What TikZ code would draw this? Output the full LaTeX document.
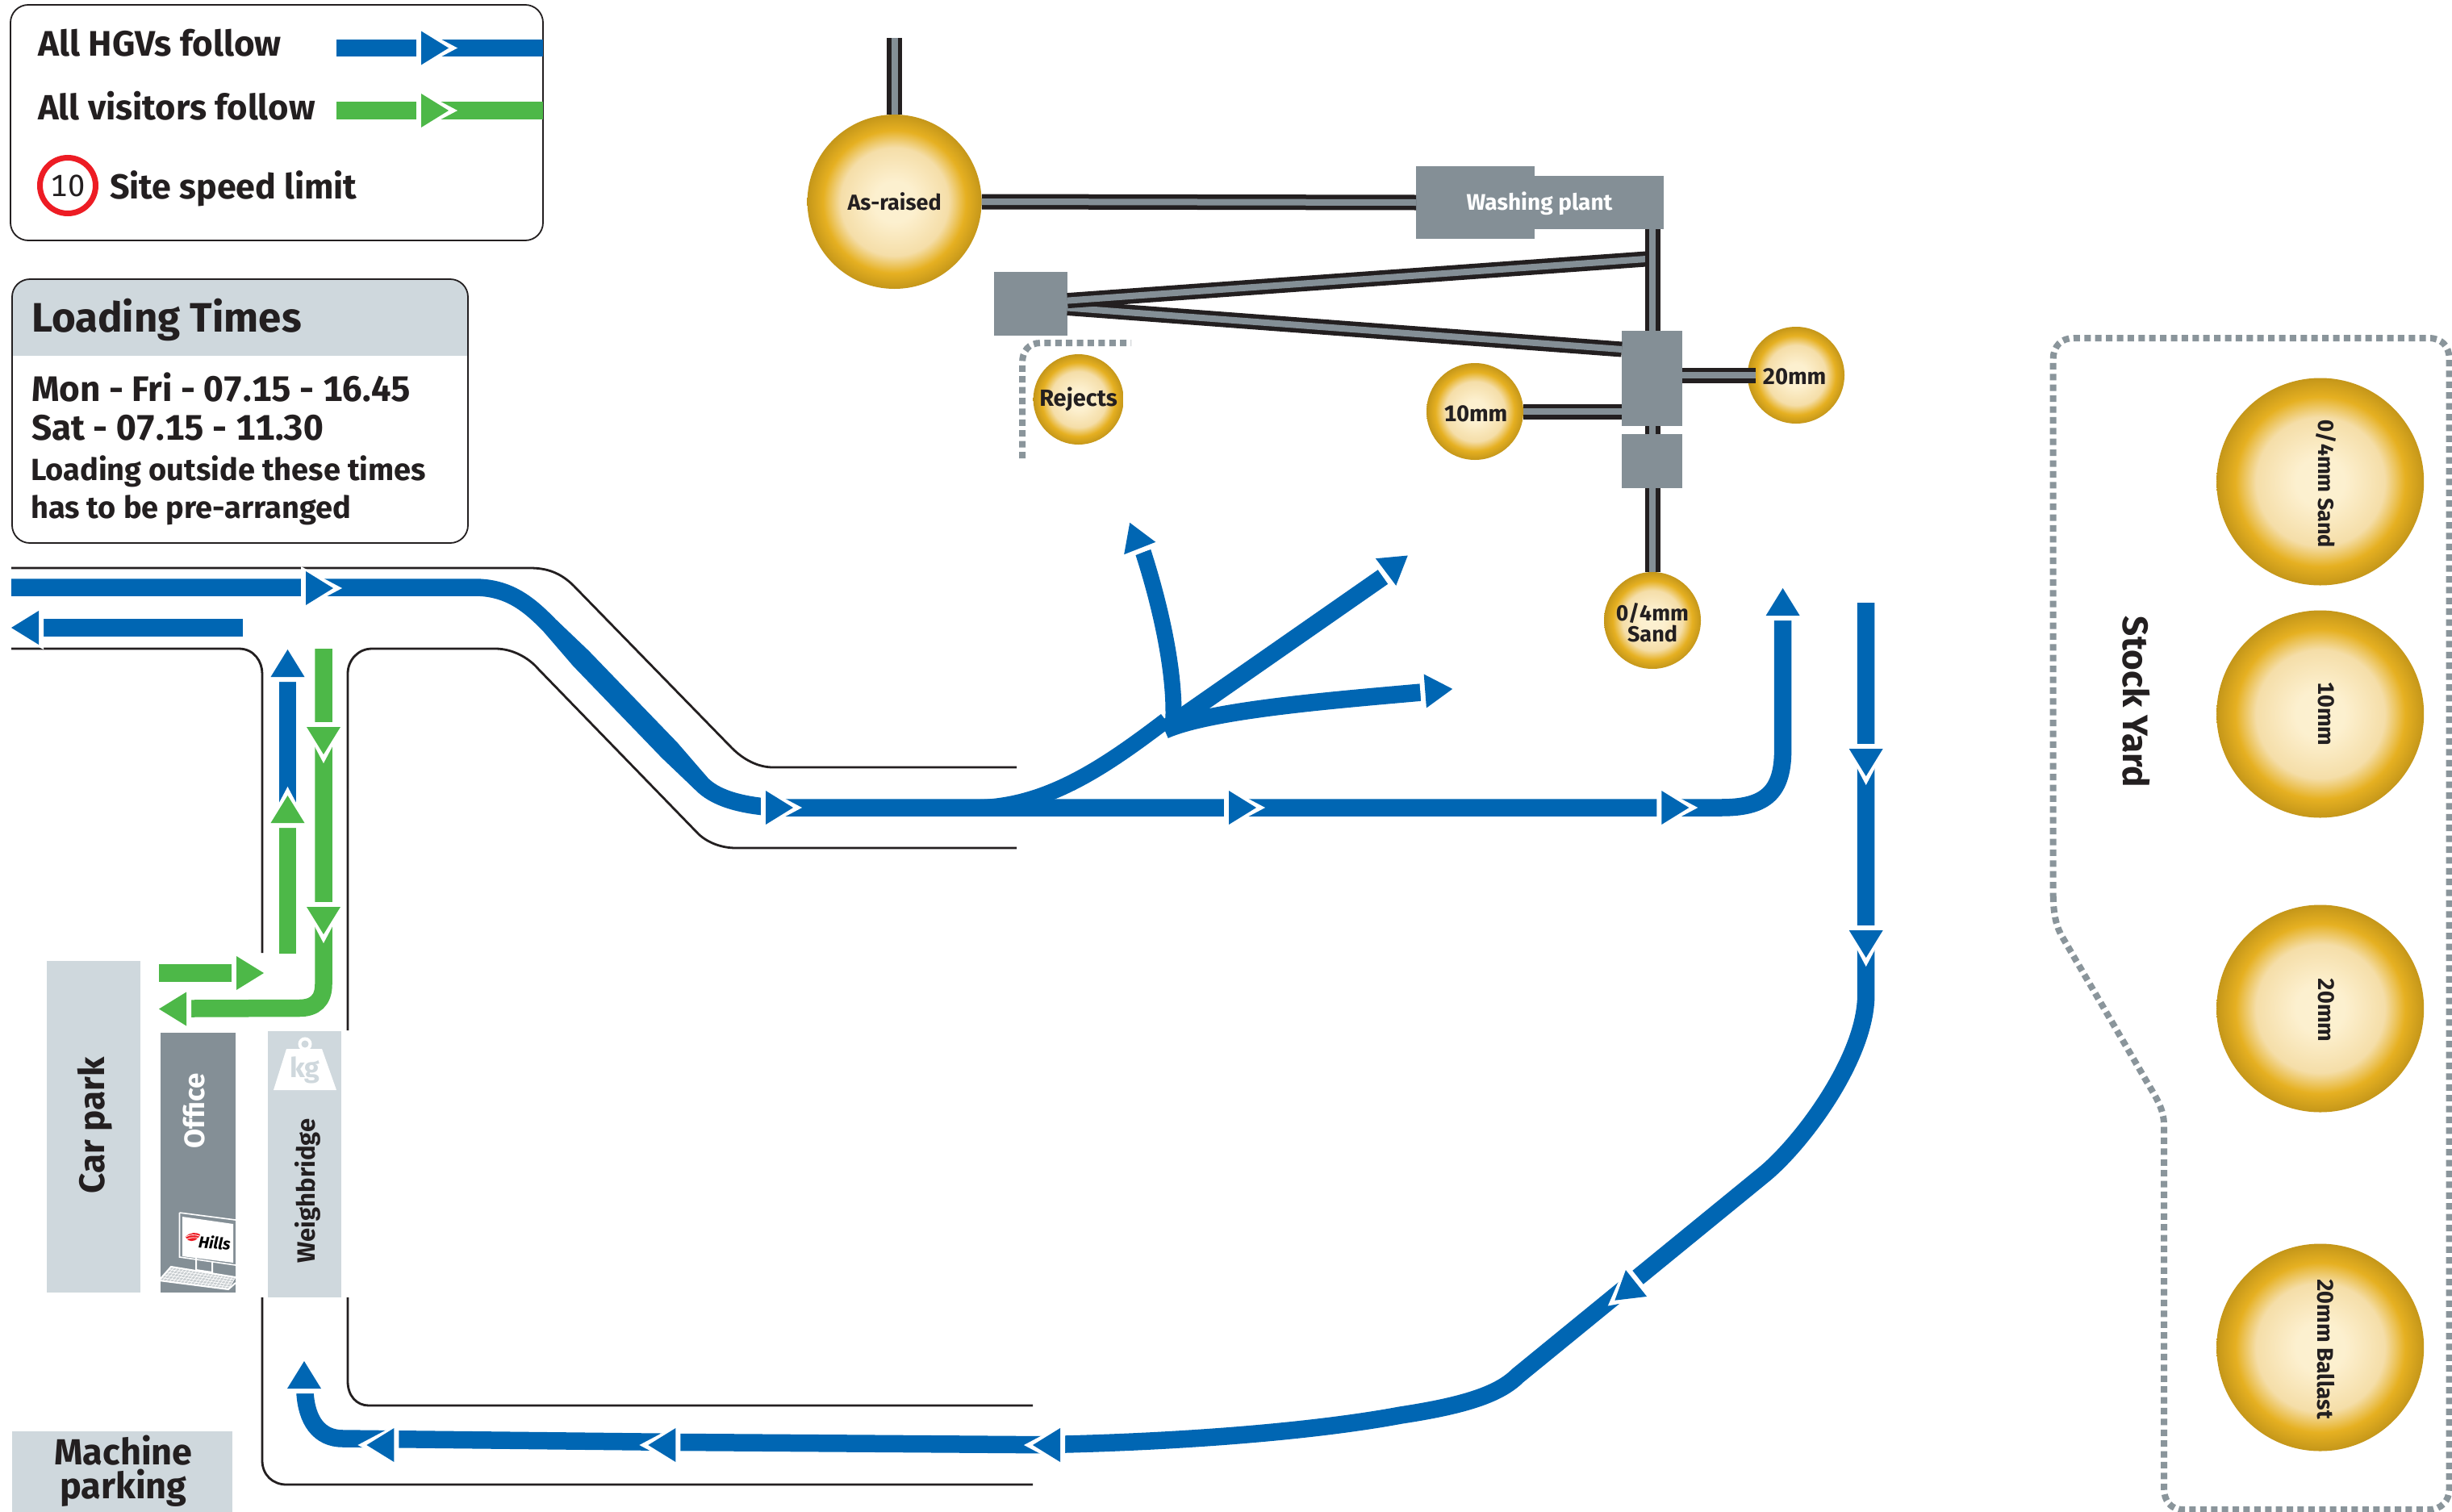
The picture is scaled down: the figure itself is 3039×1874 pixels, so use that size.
\documentclass[tikz,border=0pt]{standalone}
\usepackage{fontspec}
\setmainfont[Numbers=Monospaced]{Fira Sans}
\usetikzlibrary{calc}
\definecolor{hgv}{HTML}{0066B3}
\definecolor{visitor}{HTML}{4DB848}
\definecolor{ink}{HTML}{231F20}
\definecolor{pale}{HTML}{CFD8DD}
\definecolor{plantgrey}{HTML}{848F96}
\definecolor{dotgrey}{HTML}{8A959B}
\definecolor{hillsred}{HTML}{ED1C24}
\pgfdeclareradialshading{pileshade}{\pgfpoint{0bp}{0bp}}{rgb(0bp)=(0.99,0.945,0.82); rgb(6bp)=(0.99,0.94,0.81); rgb(15.5bp)=(0.96,0.87,0.66); rgb(20.5bp)=(0.90,0.69,0.13); rgb(25bp)=(0.77,0.59,0.10); rgb(50bp)=(0.77,0.59,0.10)}
\newcommand\tsz[1]{\fontsize{#1}{#1}\selectfont\bfseries}
\tikzset{
  flowhead/.pic={
    \fill[white] (-6,-27) -- (-6,27) -- (45,0) -- cycle;
    \fill[#1] (0,-21) -- (0,21) -- (34,0) -- cycle;
  },
  road/.style={draw=ink,line width=2.8},
  flow/.style={draw=#1,line width=21.5},
  conveyor/.style={draw=ink,line width=5.5,double=plantgrey,double distance=8},
  boxy/.style={fill=plantgrey,inner sep=0},
  stockpile/.style={circle,shade,shading=pileshade,inner sep=0,minimum size=#1,text=ink,align=center},
  lab/.style={inner sep=0,text=ink,align=center},
  lableft/.style={inner sep=0,text=ink,anchor=base west},
  dotted line/.style={draw=dotgrey,line width=8,dash pattern=on 8pt off 5.4pt},
  panel/.style={draw=ink,line width=1.8,rounded corners=22},
}
\begin{document}
\begin{tikzpicture}[x=1pt,y=-1pt]
\useasboundingbox (0,0) rectangle (3039,1874);
\fill[white] (0,0) rectangle (3039,1874);

% legend
\draw[panel] (13,6) rectangle (673,298);
\node[lableft] (lhgv) at (47,69) {\tsz{44}All HGVs follow};
\node[lableft] (lvis) at (47,148) {\tsz{43.5}All visitors follow};
\node[lableft] (lspeed) at (136,246) {\tsz{43}Site speed limit};
\node[circle,draw=hillsred,line width=7,minimum size=69,inner sep=0,text=ink] (speed) at (84,230) {\fontsize{38}{38}\selectfont 10};
\draw[flow=hgv] (417,59.5) -- (673,59.5);
\draw[flow=visitor] (417,137) -- (673,137);
\pic at (522,59.5) {flowhead=hgv};
\pic at (522,137) {flowhead=visitor};

% loading times
\begin{scope}
\clip[rounded corners=22] (15,346) rectangle (580,673);
\fill[pale] (15,346) rectangle (580,441);
\end{scope}
\draw[panel] (15,346) rectangle (580,673);
\node[lableft] (ltitle) at (39,411) {\tsz{51}Loading Times};
\node[lableft] (lmon) at (39,497) {\tsz{44}Mon - Fri - 07.15 - 16.45};
\node[lableft] (lsat) at (39,545) {\tsz{44}Sat - 07.15 - 11.30};
\node[lableft] (lout) at (38,595) {\tsz{38}Loading outside these times};
\node[lableft] (lpre) at (38,642) {\tsz{38}has to be pre-arranged};

% roads
\draw[road] (14,704) -- (657,704) .. controls (678,704) and (695,710) .. (711,726) -- (907,927) .. controls (922,942) and (940,951) .. (958,951) -- (1260,951);
\draw[road] (14,804) -- (296,804) .. controls (315,804) and (325,820) .. (325,835) -- (325,1181);
\draw[road] (431,1277) -- (431,835) .. controls (431,818) and (444,804) .. (461,804) -- (614,804) .. controls (635,804) and (655,815) .. (667,829) -- (866,1034) .. controls (878,1045) and (895,1051) .. (912,1051) -- (1260,1051);
\draw[road] (431,1608) -- (431,1712) .. controls (431,1730) and (442,1742) .. (457,1742) -- (1280,1742);
\draw[road] (325,1608) -- (325,1810) .. controls (325,1828) and (338,1840) .. (355,1840) -- (1280,1840);

% HGV route
\draw[flow=hgv] (14,728) -- (588,728) .. controls (630,728) and (655,748) .. (682,776) -- (869,971) .. controls (885,988) and (915,998) .. (960,1001) -- (2133,1001) .. controls (2185,1001) and (2209.6,985) .. (2209.6,930) -- (2209.6,769);
\fill[hgv] (689.75,768.5) -- (729.7,806.6) -- (839.7,920.6) -- (876.75,963.5) -- (861.25,978.5) -- (820.3,939.4) -- (710.3,825.4) -- (674.25,783.5) -- cycle;
\draw[flow=hgv,line width=20] (1215,1001) .. controls (1300,998) and (1370,950) .. (1445,893);
\draw[flow=hgv] (1443.5,905) .. controls (1500,880) and (1650,868) .. (1762,858);
\draw[flow=hgv,line width=20] (1454.4,890) .. controls (1456,830) and (1438,750) .. (1416.7,684);
\draw[flow=hgv] (1448.5,900) -- (1714,715);
\draw[flow=hgv] (301,778) -- (52,778);
\draw[flow=hgv] (356.5,844) -- (356.5,995);
\draw[flow=hgv] (2312.7,747) -- (2312.7,1233) .. controls (2312.7,1310) and (2235,1415) .. (2187,1455) -- (1881,1705) .. controls (1858,1728) and (1815,1742) .. (1736,1754) .. controls (1640,1772) and (1480,1787) .. (1290,1790.7) -- (843,1787.5) -- (425,1783) .. controls (395,1783) and (380,1760) .. (378,1726);
\pic at (379,729) {flowhead=hgv};
\pic at (949,1001) {flowhead=hgv};
\pic at (1523,1001) {flowhead=hgv};
\pic at (2059.3,1001) {flowhead=hgv};
\pic[rotate=90] at (2209.6,763) {flowhead=hgv};
\pic[rotate=111.5] at (1412.7,679.5) {flowhead=hgv};
\pic[rotate=37] at (1717.6,709) {flowhead=hgv};
\pic[rotate=4.4] at (1766.3,856.5) {flowhead=hgv};
\pic[rotate=180] at (48,778) {flowhead=hgv};
\pic[rotate=90] at (356.5,839) {flowhead=hgv};
\pic[rotate=-90] at (2312.7,928) {flowhead=hgv};
\pic[rotate=-90] at (2312.7,1153) {flowhead=hgv};
\pic[rotate=218.5] at (2028,1590.5) {flowhead=hgv};
\pic[rotate=180] at (1314,1791) {flowhead=hgv};
\pic[rotate=180] at (837.4,1791) {flowhead=hgv};
\pic[rotate=180] at (488.4,1791) {flowhead=hgv};
\pic[rotate=90] at (377,1721) {flowhead=hgv};

% visitor route
\draw[flow=visitor] (197,1206) -- (288,1206);
\draw[flow=visitor] (356.5,1025) -- (356.5,1182);
\draw[flow=visitor] (401,804) -- (401,1220) .. controls (401,1240) and (390,1249.5) .. (371,1249.5) -- (237,1250);
\pic at (293,1206) {flowhead=visitor};
\pic[rotate=180] at (231,1250.5) {flowhead=visitor};
\pic[rotate=90] at (356.5,1020) {flowhead=visitor};
\pic[rotate=-90] at (401,901) {flowhead=visitor};
\pic[rotate=-90] at (401,1124) {flowhead=visitor};

% buildings
\node[fill=pale,inner sep=0,minimum width=116,minimum height=411] (carpark) at (116,1396.5) {};
\node[lab,rotate=90] (carparkt) at (118,1395) {\tsz{44}Car park};
\node[boxy,minimum width=93,minimum height=322] (office) at (245.5,1441) {};
\node[inner sep=0,text=white,rotate=90] (officet) at (241,1377) {\tsz{35}Office};
\node[fill=pale,inner sep=0,minimum width=91,minimum height=330] (weigh) at (377.5,1443) {};
\node[lab,rotate=90] (weight) at (381,1476) {\tsz{31}Weighbridge};
\draw[white,line width=4] (378,1294) circle (6.5);
\fill[white] (355,1300) -- (399,1300) -- (417,1351) -- (339,1351) -- cycle;
\node[inner sep=0,text=pale] (kg) at (378,1326) {\tsz{34}kg};
\node[fill=pale,inner sep=0,minimum width=273,minimum height=100,anchor=north west] (machine) at (15,1774) {};
\node[lab,font={\fontsize{45}{42}\selectfont\bfseries}] (machinet) at (153,1823) {Machine\\parking};

% computer
\coordinate (ka) at (212,1570); \coordinate (kb) at (292,1583);
\coordinate (kc) at (283,1598); \coordinate (kd) at (197,1587);
\fill[plantgrey!45!white] (ka) -- (kb) -- (kc) -- (kd) -- cycle;
\foreach \t in {0,0.05,...,1.01} {\draw[white,line width=.7] ($(ka)!\t!(kb)$) -- ($(kd)!\t!(kc)$);}
\foreach \t in {0,0.2,...,1.01} {\draw[white,line width=.7] ($(ka)!\t!(kd)$) -- ($(kb)!\t!(kc)$);}
\draw[white,line width=2] (kd) -- (kc) -- (292,1590);
\draw[white,line width=2] (197,1587) -- (212,1570) -- (292,1583);
\draw[white,line width=2] (243,1558) -- (243,1574) -- (263,1577) -- (263,1563);
\draw[white,line width=1.6] (222.5,1503) -- (292,1512);
\draw[white,line width=1.6] (222.5,1503) -- (222.5,1558) -- (292,1568);
\fill[white] (226,1508) -- (289,1517) -- (289,1565) -- (226,1557) -- cycle;
\fill[hillsred] (230,1533) .. controls (235,1527) and (244,1527) .. (248,1530) .. controls (246,1537) and (238,1540) .. (233,1537) -- cycle;
\draw[white,line width=.8] (231,1532.5) .. controls (236,1530) and (242,1530) .. (247,1532);
\draw[white,line width=.8] (232,1535.5) .. controls (237,1533.5) and (241,1533.5) .. (246,1534.5);
\node[inner sep=0,text=black,rotate=-5] (hills) at (266,1540) {\fontsize{20}{20}\selectfont\bfseries\itshape Hills};

% plant
\node[stockpile=216] (asraised) at (1108.6,250) {\tsz{27}As-raised};
\node[stockpile=112] (rejects) at (1336.6,495) {\tsz{29}Rejects};
\node[stockpile=120] (mmten) at (1828,510) {};
\node[stockpile=120] (mmtwenty) at (2226,465) {};
\node[stockpile=120] (sand) at (2048,769) {};
\node[boxy,minimum width=146.6,minimum height=90] (washl) at (1828.7,251) {};
\node[boxy,minimum width=160,minimum height=66] (washr) at (1982,251) {};
\node[inner sep=0,text=white] (washt) at (1908,252) {\tsz{28}Washing plant};
\node[boxy,minimum width=91,minimum height=79] (rejbox) at (1277.5,376.5) {};
\node[boxy,minimum width=75,minimum height=118] (junction) at (2047.5,469) {};
\node[boxy,minimum width=75,minimum height=67] (sandbox) at (2047.5,571.5) {};
\coordinate (feed) at (1108.6,47);
\coordinate (washout) at (2048,284);
\coordinate (branch) at (2040,321);
\coordinate (rejup) at (1323,372.6);
\coordinate (rejlow) at (1323,381.5);
\coordinate (junclow) at (2010,433);
\coordinate (twentyin) at (2176,465);
\draw[conveyor] (feed) -- (asraised.north);
\draw[conveyor] (asraised.east) -- (washl.west);
\draw[conveyor] (rejlow) -- (junclow);
\draw[conveyor] (rejup) -- (branch);
\draw[conveyor] (washout) -- (washout |- junction.north);
\draw[conveyor] (twentyin -| junction.east) -- (twentyin);
\draw[conveyor] (mmten.east) -- (mmten.east -| junction.west);
\draw[conveyor] (washout |- junction.south) -- (washout |- sandbox.north);
\draw[conveyor] (washout |- sandbox.south) -- (sand.north);
\node[inner sep=0,text=ink] (mmtent) at (1829,513) {\tsz{28}10mm};
\node[inner sep=0,text=ink] (mmtwentyt) at (2224,467) {\tsz{28}20mm};
\node[lab,font={\fontsize{27}{26}\selectfont\bfseries}] (sandt) at (2048,772) {0/4mm\\Sand};
\draw[dotted line] (1267,568) -- (1267,450) .. controls (1267,435) and (1275,425) .. (1290,425) -- (1402,425);

% stock yard
\draw[dotted line] (2544.7,1110) .. controls (2545,1135) and (2549,1150) .. (2557,1163) -- (2665,1348) .. controls (2672,1360) and (2682,1375) .. (2682,1394) -- (2682,1844) .. controls (2682,1860) and (2690,1871) .. (2706,1871) -- (3010,1871) .. controls (3026,1871) and (3035.6,1860) .. (3035.6,1845) -- (3035.6,445) .. controls (3035.6,429) and (3026,419) .. (3010,419) -- (2570,419) .. controls (2555,419) and (2544.7,429) .. (2544.7,445) -- cycle;
\node[lab,rotate=-90] (yard) at (2648,870) {\tsz{44}Stock Yard};
\node[stockpile=257] (pa) at (2875.7,597) {};
\node[stockpile=257] (pb) at (2875.7,885) {};
\node[stockpile=257] (pc) at (2875.7,1250) {};
\node[stockpile=257] (pd) at (2875.7,1670) {};
\node[lab,rotate=-90] (pat) at (2883,600) {\tsz{27}0/4mm Sand};
\node[lab,rotate=-90] (pbt) at (2883,885) {\tsz{28}10mm};
\node[lab,rotate=-90] (pct) at (2883,1252) {\tsz{28}20mm};
\node[lab,rotate=-90] (pdt) at (2883,1672) {\tsz{28}20mm Ballast};
\end{tikzpicture}
\end{document}
